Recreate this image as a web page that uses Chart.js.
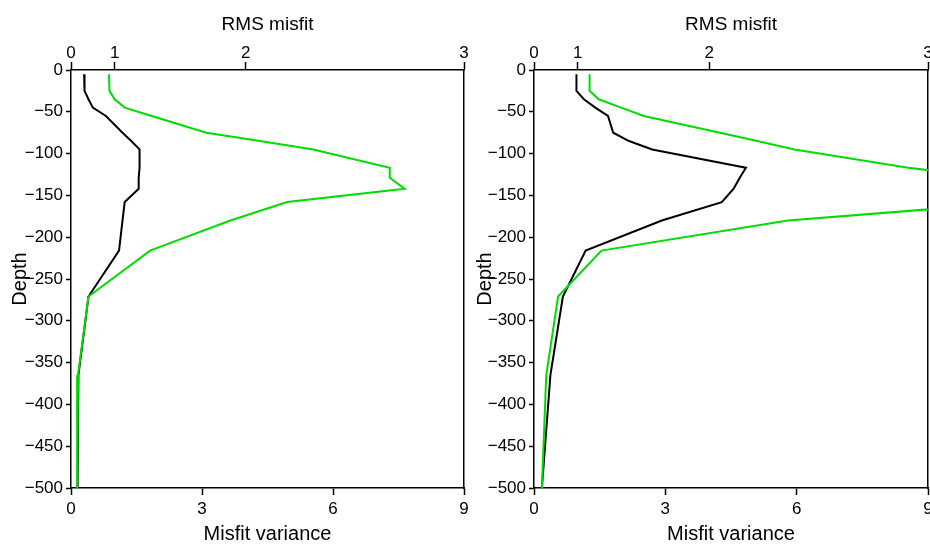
<!DOCTYPE html>
<html><head><meta charset="utf-8">
<script src="https://cdn.jsdelivr.net/npm/chart.js@4/dist/chart.umd.min.js"></script>
<style>
html,body{margin:0;padding:0;background:#fff;width:930px;height:544px;overflow:hidden;}
canvas{position:absolute;top:0;}
#c1{left:0}
#c2{left:465px}
</style></head><body>
<canvas id="c1" width="480" height="544"></canvas>
<canvas id="c2" width="480" height="544"></canvas>
<script>
// Depth levels (shared by all profiles)
const depth = [-5, -25, -35, -45, -55, -75, -85, -95, -117, -129, -142, -158, -180, -216, -271, -365, -500];
// Left panel
const leftBlack = [0.30, 0.31, 0.40, 0.50, 0.80, 1.18, 1.38, 1.57, 1.57, 1.55, 1.55, 1.23, 1.18, 1.10, 0.40, 0.17, 0.15];
const leftGreen = [0.87, 0.88, 1.00, 1.23, 1.85, 3.10, 4.33, 5.55, 7.30, 7.30, 7.64, 4.95, 3.65, 1.81, 0.40, 0.16, 0.14];
// Right panel
const rightBlack = [0.97, 0.97, 1.14, 1.40, 1.69, 1.81, 2.17, 2.70, 4.84, 4.70, 4.56, 4.29, 2.92, 1.18, 0.66, 0.375, 0.18];
const rightGreen = [1.27, 1.27, 1.48, 1.99, 2.51, 4.25, 5.10, 5.95, 8.55, 10.5, 11.5, 11.1, 5.80, 1.54, 0.55, 0.28, 0.18];
// Tick labels
const varianceTicks = [0, 3, 6, 9];
const rmsTicks = [0, 1, 2, 3];
const depthTicks = [0, -50, -100, -150, -200, -250, -300, -350, -400, -450, -500];

const FONT = "'Liberation Sans', 'DejaVu Sans', sans-serif";
Chart.defaults.font.family = FONT;
Chart.defaults.color = '#000';

function pts(vals) { return vals.map((v, i) => ({x: v, y: depth[i]})); }

function makeChart(id, black, green, yWidth, padRight) {
  return new Chart(document.getElementById(id), {
    type: 'line',
    data: {
      datasets: [
        {data: pts(green), borderColor: '#00dc00', borderWidth: 2, pointRadius: 0, tension: 0, order: 0, clip: 0},
        {data: pts(black), borderColor: '#000000', borderWidth: 2, pointRadius: 0, tension: 0, order: 1, clip: 0}
      ]
    },
    options: {
      responsive: false,
      animation: false,
      devicePixelRatio: 1,
      layout: {padding: {left: 0, right: padRight, top: 0, bottom: 0}},
      plugins: {legend: {display: false}, tooltip: {enabled: false}},
      scales: {
        x: {
          type: 'linear', position: 'bottom', min: 0, max: 9,
          afterBuildTicks: s => { s.ticks = varianceTicks.map(v => ({value: v})); },
          afterFit: s => { s.height = 56; },
          grid: {drawOnChartArea: false, drawTicks: true, tickLength: 7, tickWidth: 1.5, tickColor: '#000'},
          border: {display: true, color: '#000', width: 1.5},
          ticks: {font: {size: 17}, padding: 4, maxRotation: 0, color: '#000'},
          title: {display: true, text: 'Misfit variance', font: {size: 20}, padding: {top: 0, bottom: -2}, color: '#000'}
        },
        x2: {
          type: 'linear', position: 'top', min: 0, max: 9,
          afterBuildTicks: s => { s.ticks = rmsTicks.map(v => ({value: v * v})); },
          afterFit: s => { s.height = 70; },
          grid: {drawOnChartArea: false, drawTicks: true, tickLength: 8, tickWidth: 1.5, tickColor: '#000'},
          border: {display: true, color: '#000', width: 1.5},
          ticks: {font: {size: 17}, padding: -2, maxRotation: 0, color: '#000',
                  callback: v => String(Math.round(Math.sqrt(v)))},
          title: {display: true, text: 'RMS misfit', font: {size: 19}, padding: {top: 13, bottom: 0}, color: '#000'}
        },
        y: {
          type: 'linear', position: 'left', min: -500, max: 0,
          afterBuildTicks: s => { s.ticks = depthTicks.map(v => ({value: v})); },
          afterFit: s => { s.width = yWidth; },
          grid: {drawOnChartArea: false, drawTicks: true, tickLength: 5, tickWidth: 1.5, tickColor: '#000'},
          border: {display: true, color: '#000', width: 1.5},
          ticks: {font: {size: 17}, padding: 3, color: '#000',
                  callback: v => (v < 0 ? '\u2212' + Math.abs(v) : String(v))},
          title: {display: true, text: 'Depth', font: {size: 20}, padding: {top: 8, bottom: 0}, color: '#000'}
        },
        y2: {
          type: 'linear', position: 'right', min: -500, max: 0,
          afterFit: s => { s.width = 0; },
          grid: {drawOnChartArea: false, drawTicks: false},
          border: {display: true, color: '#000', width: 1.5},
          ticks: {display: false}
        }
      }
    }
  });
}

makeChart('c1', leftBlack, leftGreen, 71, 16);
makeChart('c2', rightBlack, rightGreen, 69, 17);
</script>
</body></html>
